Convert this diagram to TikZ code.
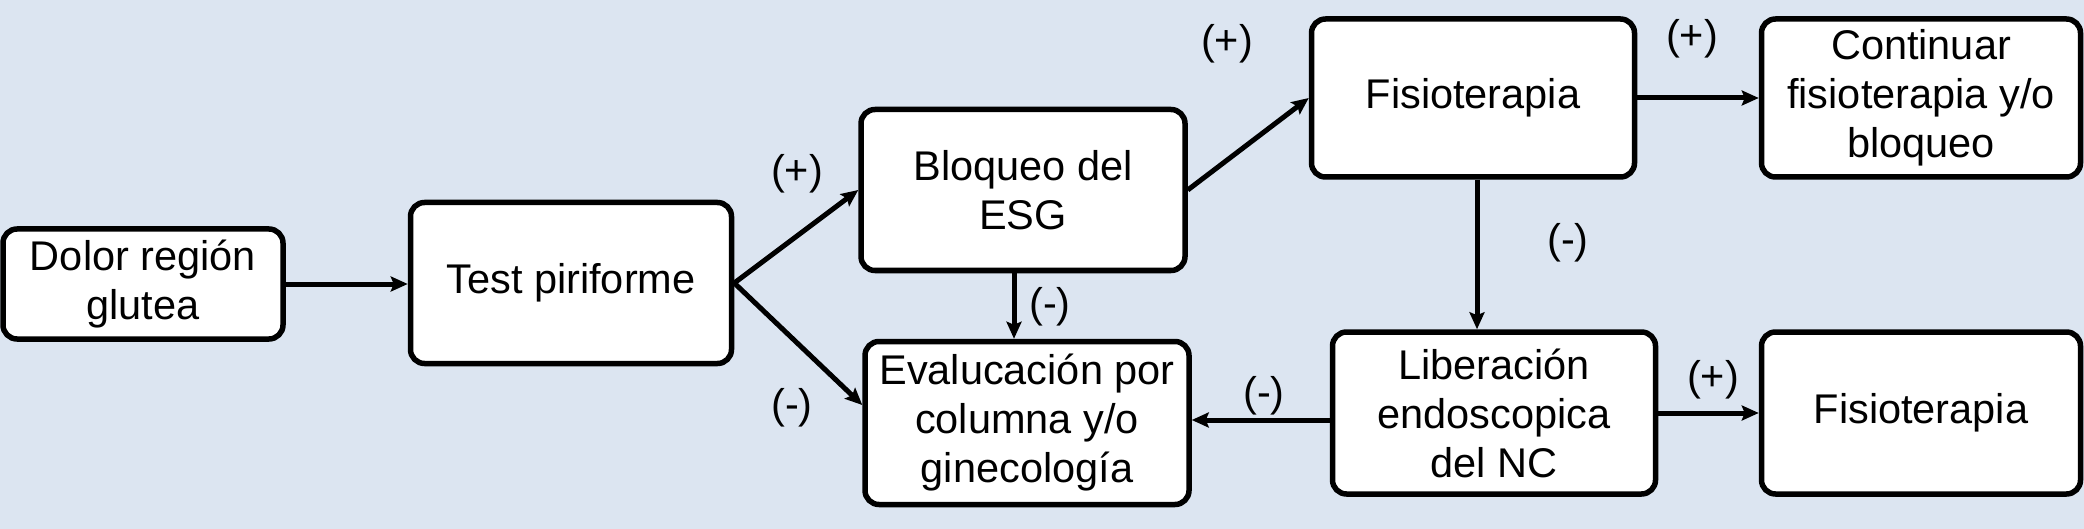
\documentclass[tikz,border=0pt]{standalone}
\usepackage{fontspec}
\setmainfont{Liberation Sans}
\usetikzlibrary{arrows.meta,calc}
\definecolor{bgc}{RGB}{220,229,241}
\begin{document}
\begin{tikzpicture}[x=1pt,y=-1pt,
  box/.style={draw=black,line width=5.5pt,fill=white,rounded corners=14pt,
    align=center,inner sep=0pt,font=\fontsize{41.5}{49}\selectfont},
  conn/.style={line width=5pt,-{Stealth[length=17pt,width=15pt,inset=3pt]}},
  lbl/.style={font=\fontsize{41.5}{49}\selectfont,inner sep=0pt}]
\fill[bgc] (0,0) rectangle (2084,529);
\useasboundingbox (0,0) rectangle (2084,529);
\node[box,minimum width=280pt,minimum height=110pt] (A) at (143,284) {Dolor región\\glutea};
\node[box,minimum width=321pt,minimum height=161pt] (B) at (571,283) {Test piriforme};
\node[box,minimum width=324pt,minimum height=161pt] (C) at (1023,190) {Bloqueo del\\ESG};
\node[box,minimum width=324pt,minimum height=163pt] (D) at (1027,423) {Evalucación por\\columna y/o\\ginecología};
\node[box,minimum width=323pt,minimum height=158pt] (E) at (1473,98) {Fisioterapia};
\node[box,minimum width=319pt,minimum height=158pt] (F) at (1921,98) {Continuar\\fisioterapia y/o\\bloqueo};
\node[box,minimum width=323pt,minimum height=162pt] (G) at (1494,413) {Liberación\\endoscopica\\del NC};
\node[box,minimum width=319pt,minimum height=162pt] (H) at (1921,413) {Fisioterapia};
\coordinate (Dl) at ($(D.west)+(0,-18)$);
\coordinate (Cs) at ($(C.south)+(-9,0)$);
\coordinate (Es) at ($(E.south)+(4,0)$);
\coordinate (Gw) at ($(G.west)+(0,7)$);
\draw[conn] (A.east) -- (A.east -| B.west);
\draw[conn] (B.east) -- (C.west);
\draw[conn] (B.east) -- (Dl);
\draw[conn] (Cs) -- (Cs |- D.north);
\draw[conn] (C.east) -- (E.west);
\draw[conn] (E.east) -- (F.west);
\draw[conn] (Es) -- (Es |- G.north);
\draw[conn] (Gw) -- (Gw -| D.east);
\draw[conn] (G.east) -- (H.west);
\node[lbl] (l1) at (797,174) {(+)};
\node[lbl] (l2) at (792,408) {(-)};
\node[lbl] (l3) at (1050,307) {(-)};
\node[lbl] (l4) at (1227,44) {(+)};
\node[lbl] (l5) at (1692,39) {(+)};
\node[lbl] (l6) at (1568,243) {(-)};
\node[lbl] (l7) at (1264,396) {(-)};
\node[lbl] (l8) at (1713,380) {(+)};
\end{tikzpicture}
\end{document}
